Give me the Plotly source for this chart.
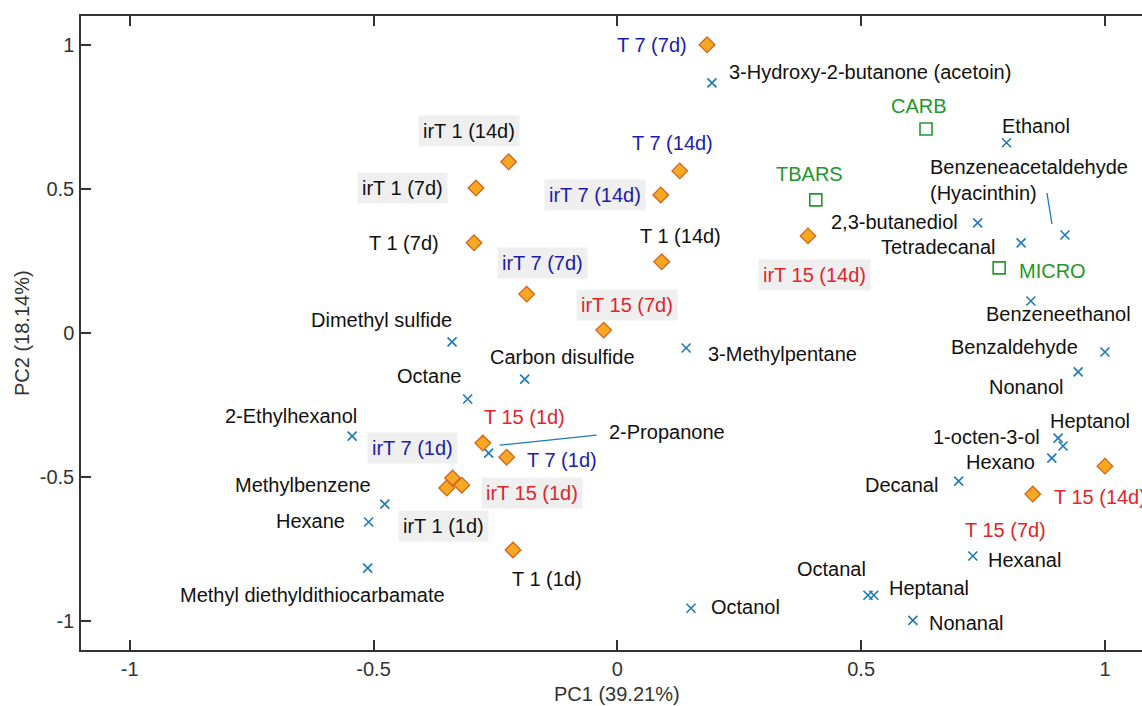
import plotly.graph_objects as go

# ---- PCA biplot data -------------------------------------------------------
# Sample scores
sample_names = [
    "T 7 (7d)", "irT 1 (14d)", "irT 1 (7d)", "T 1 (7d)", "T 7 (14d)",
    "irT 7 (14d)", "T 1 (14d)", "irT 7 (7d)", "irT 15 (7d)", "irT 15 (14d)",
    "T 15 (1d)", "T 7 (1d)", "irT 7 (1d)", "irT 15 (1d)", "irT 1 (1d)",
    "T 1 (1d)", "T 15 (7d)", "T 15 (14d)",
]
sample_pc1 = [0.184, -0.223, -0.290, -0.294, 0.128, 0.089, 0.091, -0.186, -0.028, 0.391,
              -0.276, -0.227, -0.338, -0.319, -0.350, -0.214, 0.852, 1.000]
sample_pc2 = [1.000, 0.594, 0.503, 0.313, 0.5625, 0.479, 0.247, 0.135, 0.010, 0.337,
              -0.382, -0.431, -0.503, -0.528, -0.538, -0.753, -0.559, -0.462]
sample_temp = [7, 1, 1, 1, 7, 7, 1, 7, 15, 15, 15, 7, 7, 15, 1, 1, 15, 15]

# Volatile compound loadings
compound_names = [
    "3-Hydroxy-2-butanone (acetoin)", "Ethanol", "Benzeneacetaldehyde<br>(Hyacinthin)",
    "2,3-butanediol", "Tetradecanal", "Benzeneethanol", "Benzaldehyde", "Nonanol",
    "1-octen-3-ol", "Heptanol", "Hexano", "Decanal", "Hexanal", "Octanal", "Heptanal",
    "Nonanal", "Octanol", "3-Methylpentane", "Carbon disulfide", "Octane",
    "Dimethyl sulfide", "2-Propanone", "2-Ethylhexanol", "Methylbenzene", "Hexane",
    "Methyl diethyldithiocarbamate",
]
compound_pc1 = [0.194, 0.798, 0.918, 0.739, 0.828, 0.848, 1.000, 0.945, 0.904, 0.914,
                0.891, 0.700, 0.729, 0.514, 0.526, 0.606, 0.151, 0.141, -0.190, -0.307,
                -0.339, -0.264, -0.544, -0.477, -0.510, -0.512]
compound_pc2 = [0.868, 0.660, 0.340, 0.382, 0.3125, 0.111, -0.066, -0.135, -0.365, -0.392,
                -0.434, -0.514, -0.774, -0.910, -0.910, -0.997, -0.955, -0.052, -0.160, -0.229,
                -0.031, -0.417, -0.358, -0.594, -0.656, -0.816]

# Quality parameter loadings
quality_names = ["CARB", "TBARS", "MICRO"]
quality_pc1 = [0.633, 0.407, 0.783]
quality_pc2 = [0.708, 0.462, 0.226]

# ---- label placement (pixel offsets from the marker, x anchor) ------------
sample_label_pos = {
    "T 7 (7d)": (-55, 0, "center"), "irT 1 (14d)": (-40, -31, "center"),
    "irT 1 (7d)": (-73, 0, "center"), "T 1 (7d)": (-70, 0, "center"),
    "T 7 (14d)": (-7, -28, "center"), "irT 7 (14d)": (-66, 0, "center"),
    "T 1 (14d)": (19, -26, "center"), "irT 7 (7d)": (16, -31, "center"),
    "irT 15 (7d)": (23, -25, "center"), "irT 15 (14d)": (6, 39, "center"),
    "T 15 (1d)": (42, -26, "center"), "T 7 (1d)": (55, 3, "center"),
    "irT 7 (1d)": (-40, -30, "center"), "irT 15 (1d)": (70, 8, "center"),
    "irT 1 (1d)": (-3, 38, "center"), "T 1 (1d)": (34, 29, "center"),
    "T 15 (7d)": (-27, 36, "center"), "T 15 (14d)": (-53, 31, "left"),
}
compound_label_pos = {
    "3-Hydroxy-2-butanone (acetoin)": (15, -11, "left"), "Ethanol": (30, -17, "center"),
    "Benzeneacetaldehyde<br>(Hyacinthin)": (-137, -55, "left"),
    "2,3-butanediol": (-18, -1, "right"), "Tetradecanal": (-23, 4, "right"),
    "Benzeneethanol": (28, 13, "center"), "Benzaldehyde": (-25, -5, "right"),
    "Nonanol": (-12, 15, "right"), "1-octen-3-ol": (-16, -1, "right"),
    "Heptanol": (27, -25, "center"), "Hexano": (-15, 4, "right"),
    "Decanal": (-19, 4, "right"), "Hexanal": (13, 4, "left"),
    "Octanal": (-36, -26, "center"), "Heptanal": (13, -7, "left"),
    "Nonanal": (14, 3, "left"), "Octanol": (18, -1, "left"),
    "3-Methylpentane": (20, 6, "left"), "Carbon disulfide": (38, -22, "center"),
    "Octane": (-5, -23, "right"), "Dimethyl sulfide": (-71, -22, "center"),
    "2-Propanone": (118, -21, "left"), "2-Ethylhexanol": (-61, -20, "center"),
    "Methylbenzene": (-12, -19, "right"), "Hexane": (-22, -1, "right"),
    "Methyl diethyldithiocarbamate": (-55, 27, "center"),
}
quality_label_pos = {"CARB": (-7, -23, "center"), "TBARS": (-6, -26, "center"),
                     "MICRO": (18, 3, "left")}
# leader lines (pixel offsets from the compound marker: start, end)
leaders = {
    "Benzeneacetaldehyde<br>(Hyacinthin)": ((-18, -42), (-13, -11)),
    "2-Propanone": ((11, -8), (108, -18)),
}

# ---- styling -----------------------------------------------------------------
FONT = "Liberation Sans, Arial, sans-serif"
FS = 20
AX = "#333333"
temp_color = {1: "#111111", 7: "#1c1cae", 15: "#e0262b"}
cross_color = "#1f78b8"
green = "#23962c"
label_bg = "#efefef"

X_RANGE = [-1.1, 1.076]
Y_RANGE = [-1.1, 1.1]
W, H = 1142, 706
M = dict(l=81, r=0, t=16, b=56)
x_per_px = (X_RANGE[1] - X_RANGE[0]) / (W - M["l"] - M["r"])
y_per_px = (Y_RANGE[1] - Y_RANGE[0]) / (H - M["t"] - M["b"])

fig = go.Figure()

# leader lines
for name, (p0, p1) in leaders.items():
    i = compound_names.index(name)
    fig.add_trace(go.Scatter(
        x=[compound_pc1[i] + p0[0] * x_per_px, compound_pc1[i] + p1[0] * x_per_px],
        y=[compound_pc2[i] - p0[1] * y_per_px, compound_pc2[i] - p1[1] * y_per_px],
        mode="lines", line=dict(color=cross_color, width=1.3),
        hoverinfo="skip", showlegend=False))

fig.add_trace(go.Scatter(
    x=compound_pc1, y=compound_pc2, mode="markers", name="Compounds",
    marker=dict(symbol="x-thin", size=9, line=dict(color=cross_color, width=1.6)),
    text=compound_names, showlegend=False))

fig.add_trace(go.Scatter(
    x=quality_pc1, y=quality_pc2, mode="markers", name="Quality",
    marker=dict(symbol="square-open", size=12, color=green, line=dict(width=1.6)),
    text=quality_names, showlegend=False))

fig.add_trace(go.Scatter(
    x=sample_pc1, y=sample_pc2, mode="markers", name="Samples",
    marker=dict(symbol="diamond", size=12, color="#f7a823",
                line=dict(color="#d2631c", width=1.3)),
    text=sample_names, showlegend=False))

annotations = []


def add_label(x, y, text, pos, color, bg=None):
    dx, dy, anchor = pos
    ann = dict(x=x, y=y, xref="x", yref="y", text=text, showarrow=False,
               xshift=dx, yshift=-dy, xanchor=anchor, yanchor="middle", align="left",
               font=dict(family=FONT, size=FS, color=color))
    if bg:
        ann.update(bgcolor=bg, borderpad=4)
    annotations.append(ann)


for n, x, y, t in zip(sample_names, sample_pc1, sample_pc2, sample_temp):
    add_label(x, y, n, sample_label_pos[n], temp_color[t],
              bg=label_bg if n.startswith("irT") else None)
for n, x, y in zip(compound_names, compound_pc1, compound_pc2):
    add_label(x, y, n, compound_label_pos[n], "#111111")
for n, x, y in zip(quality_names, quality_pc1, quality_pc2):
    add_label(x, y, n, quality_label_pos[n], green)

# axis titles
annotations.append(dict(x=0, y=0, xref="x", yref="paper", text="PC1 (39.21%)",
                        showarrow=False, yanchor="top", yshift=-31,
                        font=dict(family=FONT, size=FS, color=AX)))
annotations.append(dict(x=0, y=0, xref="paper", yref="y", text="PC2 (18.14%)",
                        showarrow=False, textangle=-90, xanchor="center", xshift=-59,
                        font=dict(family=FONT, size=FS, color=AX)))

tick_vals = [-1, -0.5, 0, 0.5, 1]
tick_text = ["-1", "-0.5", "0", "0.5", "1"]
axis_common = dict(
    tickvals=tick_vals, ticktext=tick_text, ticks="inside", ticklen=10, tickwidth=1.5,
    tickcolor=AX, showline=True, linecolor=AX, linewidth=1.5, showgrid=False,
    zeroline=False, tickfont=dict(family=FONT, size=FS, color=AX),
)

fig.update_layout(
    width=W, height=H, margin=M,
    paper_bgcolor="white", plot_bgcolor="white",
    xaxis=dict(range=X_RANGE, mirror="ticks", ticklabelstandoff=0, **axis_common),
    yaxis=dict(range=Y_RANGE, mirror=False, ticklabelstandoff=1, **axis_common),
    annotations=annotations,
    font=dict(family=FONT, size=FS),
)

fig.write_html("out.html")
